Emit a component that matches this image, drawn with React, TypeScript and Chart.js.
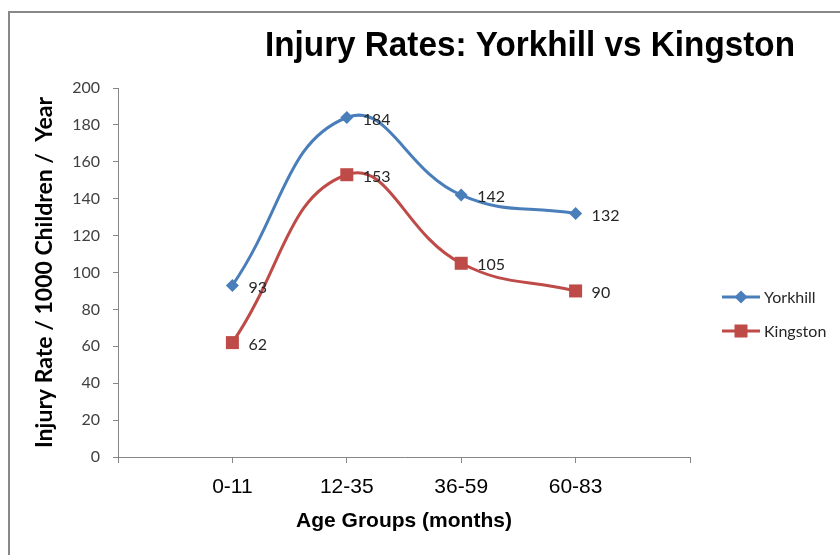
import React, { useEffect, useRef } from "react";
import { Chart, registerables } from "chart.js";

Chart.register(...registerables);

const chartTitle = "Injury Rates: Yorkhill vs Kingston";
const categories = ["0-11", "12-35", "36-59", "60-83"];
const yorkhill = [93, 184, 142, 132];
const kingston = [62, 153, 105, 90];
const seriesNames = ["Yorkhill", "Kingston"];
const yTitle = "Injury Rate / 1000 Children /  Year";
const xTitle = "Age Groups (months)";

const BLUE = "#4a7ebb";
const RED = "#be4b48";
const AXIS = "#868686";

const framePlugin = {
  id: "frame",
  beforeDraw(chart: any) {
    const ctx = chart.ctx;
    ctx.save();
    ctx.fillStyle = "#ffffff";
    ctx.fillRect(0, 0, chart.width, chart.height);
    ctx.strokeStyle = "#888888";
    ctx.lineWidth = 2;
    ctx.beginPath();
    ctx.moveTo(9, chart.height);
    ctx.lineTo(9, 12);
    ctx.lineTo(chart.width, 12);
    ctx.stroke();
    ctx.restore();
  },
};

const extrasPlugin = {
  id: "extras",
  afterDatasetsDraw(chart: any) {
    const ctx = chart.ctx;
    ctx.save();
    // data labels
    ctx.font = "16px Lato, 'Liberation Sans', sans-serif";
    ctx.fillStyle = "#262626";
    ctx.textAlign = "left";
    ctx.textBaseline = "middle";
    chart.data.datasets.forEach((ds: any, i: number) => {
      const meta = chart.getDatasetMeta(i);
      meta.data.forEach((pt: any, j: number) => {
        ctx.fillText(String(ds.data[j].y), pt.x + 16, pt.y + 2);
      });
    });
    // title (slightly condensed)
    ctx.font = "bold 35px 'Liberation Sans', Arial, sans-serif";
    ctx.fillStyle = "#000000";
    ctx.textAlign = "center";
    const w = ctx.measureText(chartTitle).width;
    const sx = Math.min(1, 530 / w);
    ctx.save();
    ctx.translate(530, 46);
    ctx.scale(sx, 1);
    ctx.fillText(chartTitle, 0, 0);
    ctx.restore();
    // legend
    const legendY = [297, 331];
    chart.data.datasets.forEach((ds: any, i: number) => {
      const y = legendY[i];
      ctx.strokeStyle = ds.borderColor;
      ctx.lineWidth = 3;
      ctx.beginPath();
      ctx.moveTo(722, y);
      ctx.lineTo(760, y);
      ctx.stroke();
      ctx.fillStyle = ds.backgroundColor;
      if (ds.pointStyle === "rectRot") {
        ctx.beginPath();
        ctx.moveTo(741, y - 6.5);
        ctx.lineTo(747.5, y);
        ctx.lineTo(741, y + 6.5);
        ctx.lineTo(734.5, y);
        ctx.closePath();
        ctx.fill();
      } else {
        ctx.fillRect(741 - 6.5, y - 6.5, 13, 13);
      }
      ctx.fillStyle = "#262626";
      ctx.font = "16px Lato, 'Liberation Sans', sans-serif";
      ctx.textAlign = "left";
      ctx.fillText(ds.label, 764, y + 1);
    });
    ctx.restore();
  },
};

export default function App() {
  const ref = useRef<HTMLCanvasElement | null>(null);

  useEffect(() => {
    document.body.style.margin = "0";
    if (!ref.current) return;
    const chart = new Chart(ref.current, {
      type: "line",
      data: {
        datasets: [
          {
            label: seriesNames[0],
            data: yorkhill.map((v, i) => ({ x: i + 1, y: v })),
            borderColor: BLUE,
            backgroundColor: BLUE,
            borderWidth: 3,
            pointStyle: "rectRot",
            pointRadius: 6.5,
            pointBorderWidth: 0,
            tension: 0.45,
          },
          {
            label: seriesNames[1],
            data: kingston.map((v, i) => ({ x: i + 1, y: v })),
            borderColor: RED,
            backgroundColor: RED,
            borderWidth: 3,
            pointStyle: "rect",
            pointRadius: 9.2,
            pointBorderWidth: 0,
            tension: 0.45,
          },
        ],
      },
      options: {
        animation: false,
        responsive: true,
        maintainAspectRatio: false,
        layout: { padding: { top: 88, right: 150, left: 0, bottom: 0 } },
        plugins: {
          legend: { display: false },
          title: { display: false },
          tooltip: { enabled: false },
        },
        scales: {
          x: {
            type: "linear",
            min: 0,
            max: categories.length + 1,
            afterFit(scale: any) {
              scale.height = 98;
            },
            afterBuildTicks(scale: any) {
              scale.ticks = [0, 1, 2, 3, 4, 5].map((v) => ({ value: v }));
            },
            ticks: {
              stepSize: 1,
              autoSkip: false,
              maxRotation: 0,
              padding: 12,
              color: "#000000",
              font: { family: "'Liberation Sans', Arial, sans-serif", size: 21 },
              callback: (v: any) => categories[Number(v) - 1] ?? "",
            },
            grid: {
              drawOnChartArea: false,
              drawTicks: true,
              tickLength: 6,
              color: AXIS,
            },
            border: { display: true, color: AXIS, width: 1 },
            title: {
              display: true,
              text: xTitle,
              color: "#000000",
              font: { family: "'Liberation Sans', Arial, sans-serif", size: 21, weight: "bold" },
              padding: { top: 0, bottom: 21 },
            },
          },
          y: {
            min: 0,
            max: 200,
            afterFit(scale: any) {
              scale.width = 118;
            },
            ticks: {
              stepSize: 20,
              padding: 13,
              color: "#404040",
              font: { family: "Lato, 'Liberation Sans', sans-serif", size: 16 },
            },
            grid: {
              drawOnChartArea: false,
              drawTicks: true,
              tickLength: 5,
              color: AXIS,
            },
            border: { display: true, color: AXIS, width: 1 },
            title: {
              display: true,
              text: yTitle,
              color: "#000000",
              font: { family: "Lato, 'Liberation Sans', sans-serif", size: 23, weight: "bold" },
              padding: { top: 31, bottom: 0 },
            },
          },
        },
      },
      plugins: [framePlugin, extrasPlugin],
    });
    return () => chart.destroy();
  }, []);

  return (
    <div style={{ width: 840, height: 555, position: "relative" }}>
      <canvas ref={ref} />
    </div>
  );
}
